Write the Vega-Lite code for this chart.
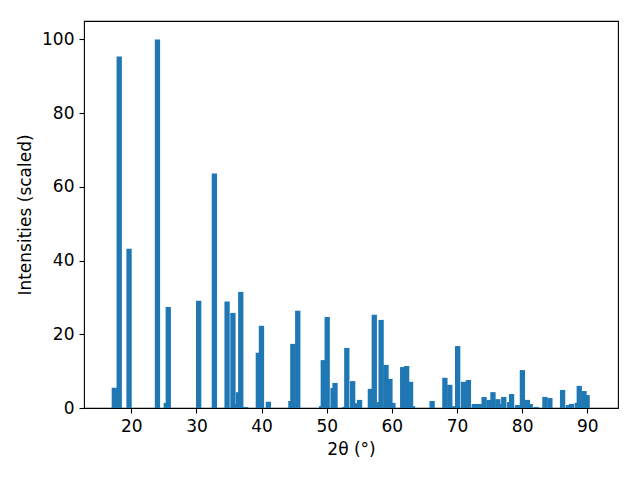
{
  "$schema": "https://vega.github.io/schema/vega-lite/v6.json",
  "width": 534,
  "height": 387,
  "autosize": {"type": "none"},
  "padding": {"left": 84, "top": 21, "right": 22, "bottom": 72},
  "background": "white",
  "config": {
    "font": "DejaVu Sans",
    "view": {"stroke": "black", "strokeWidth": 1.1},
    "axis": {
      "grid": false,
      "domain": false,
      "tickColor": "black",
      "tickSize": 5,
      "tickWidth": 1.1,
      "labelFont": "DejaVu Sans",
      "labelFontSize": 17,
      "labelColor": "black",
      "labelPadding": 5,
      "titleFont": "DejaVu Sans",
      "titleFontSize": 17,
      "titleFontWeight": "normal",
      "titleColor": "black"
    }
  },
  "data": {
    "values": [
      {"x": 17.39, "y": 5.5},
      {"x": 18.14, "y": 95.4},
      {"x": 19.65, "y": 43.2},
      {"x": 24.01, "y": 100},
      {"x": 25.37, "y": 1.4},
      {"x": 25.67, "y": 27.4},
      {"x": 30.34, "y": 29.1},
      {"x": 32.75, "y": 63.6},
      {"x": 34.7, "y": 28.9},
      {"x": 35.6, "y": 25.8},
      {"x": 36.06, "y": 1.1},
      {"x": 36.45, "y": 4.3},
      {"x": 36.8, "y": 31.5},
      {"x": 37.55, "y": 0.3},
      {"x": 39.5, "y": 15.0},
      {"x": 39.98, "y": 22.3},
      {"x": 41.04, "y": 1.7},
      {"x": 44.5, "y": 1.9},
      {"x": 44.8, "y": 17.4},
      {"x": 45.55, "y": 26.4},
      {"x": 49.2, "y": 0.5},
      {"x": 49.47, "y": 13.0},
      {"x": 50.07, "y": 24.7},
      {"x": 50.97, "y": 5.4},
      {"x": 51.27, "y": 6.8},
      {"x": 52.78, "y": 0.3},
      {"x": 53.08, "y": 16.3},
      {"x": 53.98, "y": 7.3},
      {"x": 54.7, "y": 1.3},
      {"x": 55.04, "y": 2.2},
      {"x": 56.7, "y": 5.2},
      {"x": 57.3, "y": 25.3},
      {"x": 58.05, "y": 1.6},
      {"x": 58.35, "y": 23.9},
      {"x": 59.1, "y": 11.7},
      {"x": 59.7, "y": 7.9},
      {"x": 60.16, "y": 1.4},
      {"x": 61.66, "y": 11.1},
      {"x": 62.27, "y": 11.4},
      {"x": 62.87, "y": 7.1},
      {"x": 63.17, "y": 0.5},
      {"x": 66.18, "y": 1.9},
      {"x": 68.14, "y": 8.2},
      {"x": 68.89, "y": 6.3},
      {"x": 69.65, "y": 0.5},
      {"x": 70.1, "y": 16.8},
      {"x": 71.0, "y": 7.1},
      {"x": 71.75, "y": 7.6},
      {"x": 72.66, "y": 1.1},
      {"x": 73.41, "y": 1.1},
      {"x": 74.16, "y": 3.0},
      {"x": 74.92, "y": 2.2},
      {"x": 75.52, "y": 4.3},
      {"x": 76.27, "y": 2.4},
      {"x": 76.42, "y": 1.1},
      {"x": 77.18, "y": 3.0},
      {"x": 78.08, "y": 1.6},
      {"x": 78.38, "y": 3.8},
      {"x": 79.3, "y": 0.8},
      {"x": 80.04, "y": 10.3},
      {"x": 80.8, "y": 2.2},
      {"x": 81.24, "y": 1.1},
      {"x": 82.15, "y": 0.3},
      {"x": 83.5, "y": 3.0},
      {"x": 84.26, "y": 2.7},
      {"x": 86.21, "y": 4.9},
      {"x": 87.1, "y": 0.8},
      {"x": 87.57, "y": 1.1},
      {"x": 88.47, "y": 1.4},
      {"x": 88.77, "y": 6.0},
      {"x": 89.5, "y": 4.6},
      {"x": 89.98, "y": 3.5}
    ]
  },
  "mark": {"type": "bar", "width": 5.3, "color": "#1f77b4", "clip": true},
  "encoding": {
    "x": {
      "field": "x",
      "type": "quantitative",
      "scale": {"domain": [13.5, 93.95], "nice": false, "zero": false},
      "axis": {"values": [20, 30, 40, 50, 60, 70, 80, 90], "title": "2θ (°)", "titlePadding": 7}
    },
    "y": {
      "field": "y",
      "type": "quantitative",
      "scale": {"domain": [0, 105], "nice": false},
      "axis": {"values": [0, 20, 40, 60, 80, 100], "title": "Intensities (scaled)", "titlePadding": 7}
    }
  }
}
